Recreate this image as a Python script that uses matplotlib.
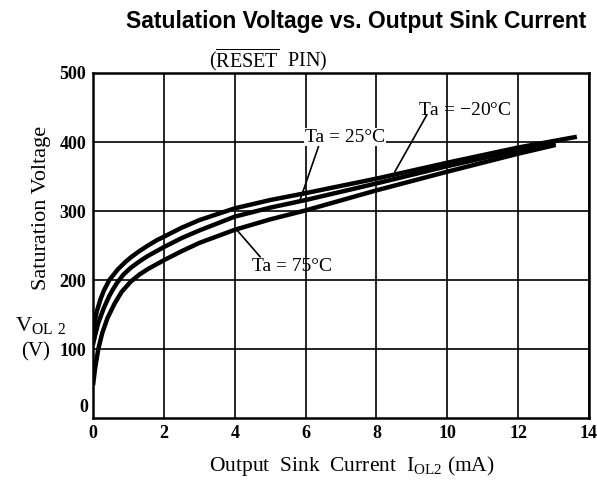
import matplotlib.pyplot as plt

plt.rcParams['font.family'] = 'Liberation Serif'
plt.rcParams['mathtext.fontset'] = 'custom'
plt.rcParams['mathtext.rm'] = 'Liberation Serif'

# readings (mA, V)
i_m20 = [0, 0.03, 0.1, 0.2, 0.3, 0.45, 0.7, 0.9, 1.06, 1.3, 1.54, 1.8, 2, 2.5, 3, 4, 5, 6, 8, 10, 12, 13.6]
v_m20 = [128, 138, 155, 172, 185, 200, 216, 226, 233, 242, 250, 258, 263, 276, 287, 304, 316, 326, 347, 370, 392, 407]

i_25 = [0, 0.05, 0.14, 0.3, 0.45, 0.56, 0.67, 0.85, 1.06, 1.3, 1.54, 2, 2.5, 3, 4, 5, 6, 8, 10, 12, 13.0]
v_25 = [109, 120, 138, 160, 177, 187, 196, 208, 218, 227, 235, 248, 261, 272, 292, 305, 316, 340, 365, 388, 398]

i_75 = [0, 0.05, 0.14, 0.25, 0.4, 0.6, 0.8, 1.06, 1.3, 1.54, 2, 2.5, 3, 4, 5, 6, 8, 10, 12, 13.0]
v_75 = [51, 72, 100, 123, 145, 166, 183, 198, 208, 216, 229, 242, 254, 273, 288, 301, 330, 357, 383, 395]

x_ticks = [0, 2, 4, 6, 8, 10, 12, 14]
y_ticks = [100, 200, 300, 400, 500]

fig = plt.figure(figsize=(5.97, 4.83), dpi=100)
ax = fig.add_axes([0.1563, 0.134, 0.830, 0.715])

for xs, ys in [(i_m20, v_m20), (i_25, v_25), (i_75, v_75)]:
    ax.plot(xs, ys, color='black', lw=3.2, solid_joinstyle='round', zorder=3)

ax.set_xlim(0, 14)
ax.set_ylim(0, 500)
ax.set_xticks(x_ticks)
ax.set_yticks(y_ticks)
ax.grid(True, color='black', lw=1.2)
ax.tick_params(length=0, labelsize=13, pad=5)
for lab in ax.get_xticklabels() + ax.get_yticklabels():
    lab.set_fontweight('bold')
for s in ax.spines.values():
    s.set_linewidth(1.8)

# y "0" sits apart from the x "0"
ax.text(-0.14, 4, '0', ha='right', va='bottom', fontsize=13, fontweight='bold')

# curve labels with leader lines
def label(txt, tx, ty, x0, y0, x1, y1, box=False):
    ax.text(tx, ty, txt, ha='center', va='center', fontsize=14, zorder=4,
            bbox=dict(facecolor='white', edgecolor='none', pad=0.5) if box else None)
    ax.plot([x0, x1], [y0, y1], color='black', lw=1.2, zorder=4)

label('Ta = $-$20°C', 10.5, 445, 9.42, 439, 8.52, 357)
label('Ta = 25°C', 7.11, 407, 6.36, 393, 5.84, 316, box=True)
label('Ta = 75°C', 5.61, 220, 4.71, 234, 4.05, 273)

fig.text(0.597, 0.955, 'Satulation Voltage vs. Output Sink Current',
         ha='center', va='center', fontsize=16.5, fontweight='bold',
         family='Liberation Sans')
fig.text(0.449, 0.874, r'($\overline{\mathrm{RESET}}$  PIN)', ha='center',
         va='center', fontsize=14.5)

fig.text(0.07, 0.569, 'Saturation Voltage', rotation=90, ha='center',
         va='center', fontsize=16)
fig.text(0.025, 0.324, 'V$_{\\mathrm{OL\\ 2}}$', ha='left', va='center', fontsize=16)
fig.text(0.06, 0.272, '(V)', ha='center', va='center', fontsize=15)
fig.text(0.59, 0.035, 'Output  Sink  Current  I$_{\\mathrm{OL2}}$ (mA)',
         ha='center', va='center', fontsize=15.5)

fig.savefig('out.png', dpi=100, facecolor='white')
